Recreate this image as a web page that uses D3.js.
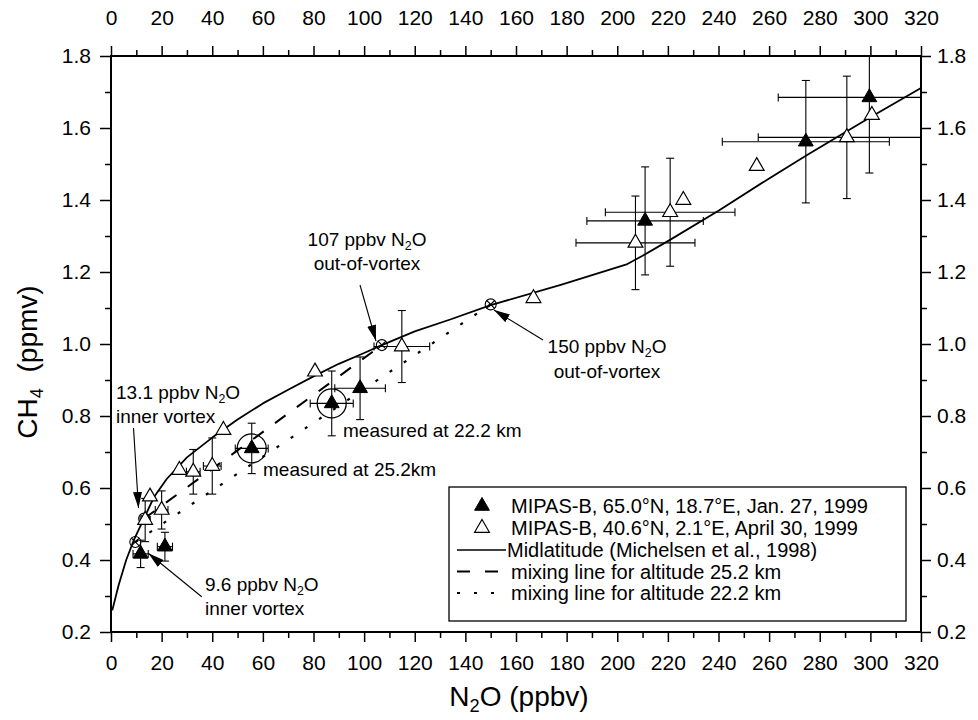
<!DOCTYPE html>
<html><head><meta charset="utf-8">
<script src="https://cdn.jsdelivr.net/npm/d3@7"></script>
<style>
body{margin:0;background:#fff}
text{font-family:"Liberation Sans",Arial,Helvetica,sans-serif;fill:#000}
</style>
</head><body><svg id="c" width="978" height="720"></svg>
<script>
// ---------- DATA ----------
const xMajorTicks = [0,20,40,60,80,100,120,140,160,180,200,220,240,260,280,300,320];
const xMinorTicks = [10,30,50,70,90,110,130,150,170,190,210,230,250,270,290,310];
const yMajorTicks = [0.2,0.4,0.6,0.8,1.0,1.2,1.4,1.6,1.8];
const yMinorTicks = [0.3,0.5,0.7,0.9,1.1,1.3,1.5,1.7];

// MIPAS-B, 65.0N, Jan 27 1999 (filled triangles)
const janN2O    = [11.7, 21.3, 55.6, 87.2, 98.4, 211.0, 274.5, 299.6];
const janCH4    = [0.417, 0.437, 0.710, 0.835, 0.877, 1.342, 1.562, 1.685];
const janN2OErr = [3, 3, 6.5, 8.5, 10, 23, 33, 36];
const janCH4Err = [0.038, 0.04, 0.07, 0.09, 0.087, 0.15, 0.17, 0.21];
const janCircled = [2, 3];

// MIPAS-B, 40.6N, April 30 1999 (open triangles)
const aprN2O    = [13.5, 15.4, 20.0, 27.0, 32.5, 40.0, 44.4, 80.6, 114.9, 166.9, 207.2, 220.9, 226.1, 255.1, 290.7, 300.6];
const aprCH4    = [0.511, 0.576, 0.539, 0.650, 0.645, 0.661, 0.761, 0.923, 0.993, 1.127, 1.281, 1.366, 1.400, 1.494, 1.574, 1.636];
const aprN2OErr = [2, 0, 2.5, 0, 2.7, 3.5, 0, 0, 11, 0, 23.5, 25.6, 0, 0, 35, 0];
const aprCH4Err = [0.06, 0, 0.053, 0, 0.062, 0.078, 0, 0, 0.10, 0, 0.13, 0.15, 0, 0, 0.17, 0];

// Midlatitude reference curve (Michelsen et al., 1998)
const midN2O = [0.5, 3, 6, 9, 13, 17, 22, 30, 40, 50, 60, 70, 80, 90, 100, 107, 120, 134, 150, 178, 204, 210, 221, 240, 260, 275, 300, 320];
const midCH4 = [0.26, 0.33, 0.40, 0.455, 0.515, 0.575, 0.625, 0.685, 0.74, 0.79, 0.835, 0.873, 0.91, 0.945, 0.975, 0.997, 1.035, 1.068, 1.108, 1.165, 1.222, 1.245, 1.29, 1.37, 1.46, 1.525, 1.63, 1.711];

// mixing lines
const mix25N2O = [13.1, 107];
const mix25CH4 = [0.515, 0.997];
const mix22N2O = [9.6, 150];
const mix22CH4 = [0.45, 1.11];

// end-member markers (circle with cross)
const endN2O = [9.6, 13.1, 107, 150];
const endCH4 = [0.45, 0.515, 0.997, 1.11];

const legendLabels = [
  "MIPAS-B, 65.0°N, 18.7°E, Jan. 27, 1999",
  "MIPAS-B, 40.6°N, 2.1°E, April 30, 1999",
  "Midlatitude (Michelsen et al., 1998)",
  "mixing line for altitude 25.2 km",
  "mixing line for altitude 22.2 km"
];

// ---------- SETUP ----------
const svg = d3.select('#c');
svg.append('rect').attr('width',978).attr('height',720).attr('fill','#fff');
const x = d3.scaleLinear().domain([0,320]).range([111,921]);
const y = d3.scaleLinear().domain([0.2,1.8]).range([632,56]);

const defs = svg.append('defs');
defs.append('clipPath').attr('id','clip').append('rect')
  .attr('x',x(0)).attr('y',y(1.8)).attr('width',x(320)-x(0)).attr('height',y(0.2)-y(1.8));
defs.append('marker').attr('id','arr').attr('viewBox','0 0 16 9')
  .attr('refX',16).attr('refY',4.5).attr('markerWidth',16).attr('markerHeight',9)
  .attr('markerUnits','userSpaceOnUse').attr('orient','auto')
  .append('path').attr('d','M0,0L16,4.5L0,9Z').attr('fill','#000');

// ---------- AXES ----------
function styleAxis(g, fs){
  g.select('.domain').remove();
  g.selectAll('.tick line').attr('stroke','#000').attr('stroke-width',1.5);
  g.selectAll('.tick text').attr('font-size',fs).attr('fill','#000')
    .attr('font-family','"Liberation Sans",Arial,sans-serif');
}
const fmtX = d3.format('d'), fmtY = d3.format('.1f');
const axB = svg.append('g').attr('transform',`translate(0,${y(0.2)})`)
  .call(d3.axisBottom(x).tickValues(xMajorTicks).tickSize(10).tickPadding(13).tickFormat(fmtX));
styleAxis(axB,21);
const axBm = svg.append('g').attr('transform',`translate(0,${y(0.2)})`)
  .call(d3.axisBottom(x).tickValues(xMinorTicks).tickSize(6).tickFormat(''));
styleAxis(axBm,21);
const axT = svg.append('g').attr('transform',`translate(0,${y(1.8)})`)
  .call(d3.axisTop(x).tickValues(xMajorTicks).tickSize(10).tickPadding(21).tickFormat(fmtX));
styleAxis(axT,21);
const axTm = svg.append('g').attr('transform',`translate(0,${y(1.8)})`)
  .call(d3.axisTop(x).tickValues(xMinorTicks).tickSize(6).tickFormat(''));
styleAxis(axTm,21);
const axL = svg.append('g').attr('transform',`translate(${x(0)},0)`)
  .call(d3.axisLeft(y).tickValues(yMajorTicks).tickSize(11).tickPadding(9).tickFormat(fmtY));
styleAxis(axL,21);
const axLm = svg.append('g').attr('transform',`translate(${x(0)},0)`)
  .call(d3.axisLeft(y).tickValues(yMinorTicks).tickSize(6).tickFormat(''));
styleAxis(axLm,21);
const axR = svg.append('g').attr('transform',`translate(${x(320)},0)`)
  .call(d3.axisRight(y).tickValues(yMajorTicks).tickSize(10).tickPadding(6).tickFormat(fmtY));
styleAxis(axR,21);
const axRm = svg.append('g').attr('transform',`translate(${x(320)},0)`)
  .call(d3.axisRight(y).tickValues(yMinorTicks).tickSize(6).tickFormat(''));
styleAxis(axRm,21);

svg.append('rect').attr('x',x(0)).attr('y',y(1.8)).attr('width',x(320)-x(0)).attr('height',y(0.2)-y(1.8))
  .attr('fill','none').attr('stroke','#000').attr('stroke-width',2);

// text helper with subscripts
function rich(g, px, py, parts, fs, anchor){
  const t = g.append('text').attr('x',px).attr('y',py).attr('font-size',fs)
    .attr('text-anchor',anchor||'start').style('white-space','pre');
  let prevSub=false;
  parts.forEach(p=>{
    const sub = Array.isArray(p);
    const s = sub ? p[0] : p;
    const ts = t.append('tspan').text(s);
    if(sub){ ts.attr('font-size',fs*0.65).attr('dy',fs*0.2); }
    else if(prevSub){ ts.attr('dy',-fs*0.2); }
    prevSub = sub;
  });
  return t;
}

// axis titles
rich(svg, 519, 706, ['N',['2'],'O (ppbv)'], 28, 'middle');
rich(svg, 0, 0, ['CH',['4'],'  (ppmv)'], 28, 'middle').attr('transform','translate(37,362) rotate(-90)');

// ---------- PLOT CONTENT ----------
const plot = svg.append('g').attr('clip-path','url(#clip)');

// midlatitude curve
const midData = midN2O.map((v,i)=>[v,midCH4[i]]);
plot.append('path').datum(midData)
  .attr('d', d3.line().x(d=>x(d[0])).y(d=>y(d[1])))
  .attr('fill','none').attr('stroke','#000').attr('stroke-width',1.8).attr('stroke-linejoin','round');

// mixing lines
plot.append('path').datum(mix25N2O.map((v,i)=>[v,mix25CH4[i]]))
  .attr('d', d3.line().x(d=>x(d[0])).y(d=>y(d[1])))
  .attr('stroke','#000').attr('stroke-width',2).attr('stroke-dasharray','13,14').attr('fill','none');
plot.append('path').datum(mix22N2O.map((v,i)=>[v,mix22CH4[i]]))
  .attr('d', d3.line().x(d=>x(d[0])).y(d=>y(d[1])))
  .attr('stroke','#000').attr('stroke-width',2.2).attr('stroke-dasharray','3,14').attr('fill','none');

// error bars
function errBars(xs, ys, xe, ye){
  const g = plot.append('g').attr('stroke','#000').attr('stroke-width',1.1);
  const cap = 4;
  xs.forEach((xv,i)=>{
    const yv = ys[i];
    if(ye[i]>0){
      const y1 = y(yv-ye[i]), y2 = y(yv+ye[i]), cx = x(xv);
      g.append('line').attr('x1',cx).attr('x2',cx).attr('y1',y1).attr('y2',y2);
      g.append('line').attr('x1',cx-cap).attr('x2',cx+cap).attr('y1',y1).attr('y2',y1);
      g.append('line').attr('x1',cx-cap).attr('x2',cx+cap).attr('y1',y2).attr('y2',y2);
    }
    if(xe[i]>0){
      const x1 = x(xv-xe[i]), x2 = x(xv+xe[i]), cy = y(yv);
      g.append('line').attr('x1',x1).attr('x2',x2).attr('y1',cy).attr('y2',cy);
      g.append('line').attr('x1',x1).attr('x2',x1).attr('y1',cy-cap).attr('y2',cy+cap);
      g.append('line').attr('x1',x2).attr('x2',x2).attr('y1',cy-cap).attr('y2',cy+cap);
    }
  });
}
errBars(aprN2O, aprCH4, aprN2OErr, aprCH4Err);
errBars(janN2O, janCH4, janN2OErr, janCH4Err);

// end-member markers
const tri = d3.symbol().type(d3.symbolTriangle).size(95)();
endN2O.forEach((v,i)=>{
  const cx=x(v), cy=y(endCH4[i]), r=5.5, d=3.9;
  const g = plot.append('g').attr('stroke','#000').attr('stroke-width',1.1).attr('fill','none');
  g.append('circle').attr('cx',cx).attr('cy',cy).attr('r',r);
  g.append('line').attr('x1',cx-d).attr('y1',cy-d).attr('x2',cx+d).attr('y2',cy+d);
  g.append('line').attr('x1',cx-d).attr('y1',cy+d).attr('x2',cx+d).attr('y2',cy-d);
});

// open triangles
plot.append('g').selectAll('path').data(aprN2O).join('path')
  .attr('d',tri).attr('transform',(d,i)=>`translate(${x(d)},${y(aprCH4[i])})`)
  .attr('fill','#fff').attr('stroke','#000').attr('stroke-width',1.2);
// filled triangles
plot.append('g').selectAll('path').data(janN2O).join('path')
  .attr('d',tri).attr('transform',(d,i)=>`translate(${x(d)},${y(janCH4[i])})`)
  .attr('fill','#000').attr('stroke','#000').attr('stroke-width',1);
// big circles
janCircled.forEach(i=>{
  plot.append('circle').attr('cx',x(janN2O[i])).attr('cy',y(janCH4[i])).attr('r',14.5)
    .attr('fill','none').attr('stroke','#000').attr('stroke-width',1.3);
});

// ---------- ANNOTATIONS ----------
const ann = svg.append('g');
const afs = 19;
rich(ann, 367, 246, ['107 ppbv N',['2'],'O'], afs, 'middle');
rich(ann, 367, 270, ['out-of-vortex'], afs, 'middle');
rich(ann, 607, 353, ['150 ppbv N',['2'],'O'], afs, 'middle');
rich(ann, 607, 378, ['out-of-vortex'], afs, 'middle');
rich(ann, 116, 399, ['13.1 ppbv N',['2'],'O'], afs, 'start');
rich(ann, 116, 423, ['inner vortex'], afs, 'start');
rich(ann, 205, 591, ['9.6 ppbv N',['2'],'O'], afs, 'start');
rich(ann, 205, 615, ['inner vortex'], afs, 'start');
rich(ann, 343, 437, ['measured at 22.2 km'], afs, 'start');
rich(ann, 263, 476, ['measured at 25.2km'], afs, 'start');

const arrows = [
  [360,285,376,341],
  [543,340,494,310],
  [133.5,428,138.5,508],
  [201.7,596.7,148.3,553.3]
];
arrows.forEach(a=>{
  ann.append('line').attr('x1',a[0]).attr('y1',a[1]).attr('x2',a[2]).attr('y2',a[3])
    .attr('stroke','#000').attr('stroke-width',1.1).attr('marker-end','url(#arr)');
});

// ---------- LEGEND ----------
const lg = svg.append('g');
lg.append('rect').attr('x',449).attr('y',487).attr('width',457).attr('height',134)
  .attr('fill','#fff').attr('stroke','#000').attr('stroke-width',1.3);
const rowBase = [513, 535, 557, 578.5, 600];
const lfs = 20;
legendLabels.forEach((s,i)=>{
  lg.append('text').attr('x', i===2 ? 507 : 511).attr('y',rowBase[i]).attr('font-size',lfs).text(s);
});
const symY = rowBase.map(b=>b-7);
lg.append('path').attr('d',tri).attr('transform',`translate(482,${symY[0]})`).attr('fill','#000').attr('stroke','#000');
lg.append('path').attr('d',tri).attr('transform',`translate(482,${symY[1]})`).attr('fill','#fff').attr('stroke','#000').attr('stroke-width',1.2);
lg.append('line').attr('x1',457).attr('x2',506).attr('y1',symY[2]).attr('y2',symY[2]).attr('stroke','#000').attr('stroke-width',1.6);
lg.append('line').attr('x1',457).attr('x2',499).attr('y1',symY[3]).attr('y2',symY[3]).attr('stroke','#000').attr('stroke-width',2).attr('stroke-dasharray','13,15');
lg.append('line').attr('x1',457).attr('x2',495).attr('y1',symY[4]).attr('y2',symY[4]).attr('stroke','#000').attr('stroke-width',2.2).attr('stroke-dasharray','3,14');
</script></body></html>
